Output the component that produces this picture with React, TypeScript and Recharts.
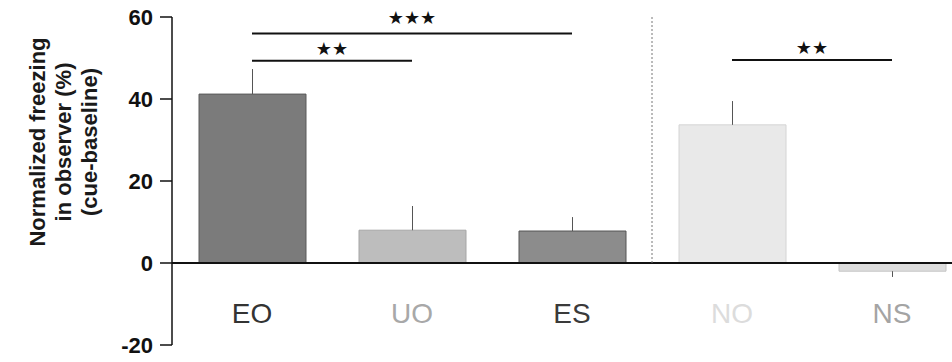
import { BarChart, Bar, Cell, XAxis, YAxis, ErrorBar, ReferenceLine } from 'recharts'

const groups = ['EO', 'UO', 'ES', 'NO', 'NS']
const freezing = [41.2, 8.0, 7.8, 33.7, -2.0]
const sem = [6.1, 5.9, 3.4, 5.8, 1.4]
const yTicks = [-20, 0, 20, 40, 60]
const barFills = ['#7b7b7b', '#bdbdbd', '#8c8c8c', '#e9e9e9', '#dedede']
const barStrokes = ['#5a5a5a', '#a5a5a5', '#555555', '#d4d4d4', '#c4c4c4']
const labelColors = ['#333333', '#a8a8a8', '#3a3a3a', '#dcdcdc', '#a4a4a4']

// significance brackets: [from, to, height, stars]
const brackets: [string, string, number, string][] = [
  ['EO', 'ES', 56, '★★★'],
  ['EO', 'UO', 49.3, '★★'],
  ['NO', 'NS', 49.5, '★★'],
]

const data = groups.map((g, i) => ({
  group: g,
  value: freezing[i],
  // one-sided error bars, away from zero
  err: freezing[i] >= 0 ? [0, sem[i]] : [sem[i], 0],
}))

const font = '"Liberation Sans", Arial, sans-serif'

function GroupTick(props: any) {
  const { x, y, payload } = props
  const idx = groups.indexOf(payload.value)
  return (
    <text
      x={x}
      y={y}
      dy={-22}
      textAnchor="middle"
      fontSize={28}
      fontFamily={font}
      fill={labelColors[idx]}
    >
      {payload.value}
    </text>
  )
}

function YTitle() {
  const lines = ['Normalized freezing', 'in observer (%)', '(cue-baseline)']
  return (
    <g>
      {lines.map((t, i) => (
        <text
          key={t}
          transform={`translate(${45 + i * 26}, 142) rotate(-90)`}
          textAnchor="middle"
          fontSize={22}
          fontWeight="bold"
          fontFamily={font}
          fill="#1a1a1a"
        >
          {t}
        </text>
      ))}
    </g>
  )
}

export default function App() {
  return (
    <div style={{ position: 'absolute', left: 0, top: 0, width: 952, height: 362, overflow: 'hidden', background: '#fff' }}>
      <BarChart width={972} height={362} data={data} margin={{ top: 17, right: 0, left: 0, bottom: -3 }}>
        <XAxis
          dataKey="group"
          height={20}
          axisLine={false}
          tickLine={false}
          tickSize={0}
          tickMargin={0}
          tick={<GroupTick />}
          interval={0}
        />
        <YAxis
          width={172}
          domain={[-20, 60]}
          ticks={yTicks}
          interval={0}
          tickSize={12}
          tickMargin={7}
          axisLine={{ stroke: '#111', strokeWidth: 1.5 }}
          tickLine={{ stroke: '#111', strokeWidth: 1.5 }}
          tick={{ fontSize: 22, fontWeight: 'bold', fill: '#111', fontFamily: font }}
          label={<YTitle />}
        />
        <Bar dataKey="value" barSize={107} isAnimationActive={false}>
          {data.map((d, i) => (
            <Cell key={d.group} fill={barFills[i]} stroke={barStrokes[i]} strokeWidth={1} />
          ))}
          <ErrorBar dataKey="err" width={0} stroke="#555" strokeWidth={1} isAnimationActive={false} />
        </Bar>
        <ReferenceLine y={0} stroke="#111" strokeWidth={2} />
        <ReferenceLine
          segment={[{ x: 'ES', y: 60 }, { x: 'ES', y: 0 }]}
          position="end"
          stroke="#777"
          strokeDasharray="2 2"
        />
        {brackets.map(([a, b, h, stars], i) => (
          <ReferenceLine
            key={i}
            segment={[{ x: a, y: h }, { x: b, y: h }]}
            stroke="#111"
            strokeWidth={2}
            label={{
              value: stars,
              position: 'top',
              offset: i === 0 ? 9 : 6,
              fontSize: 18,
              fill: '#111',
              fontFamily: '"DejaVu Sans", sans-serif',
            }}
          />
        ))}
      </BarChart>
    </div>
  )
}
